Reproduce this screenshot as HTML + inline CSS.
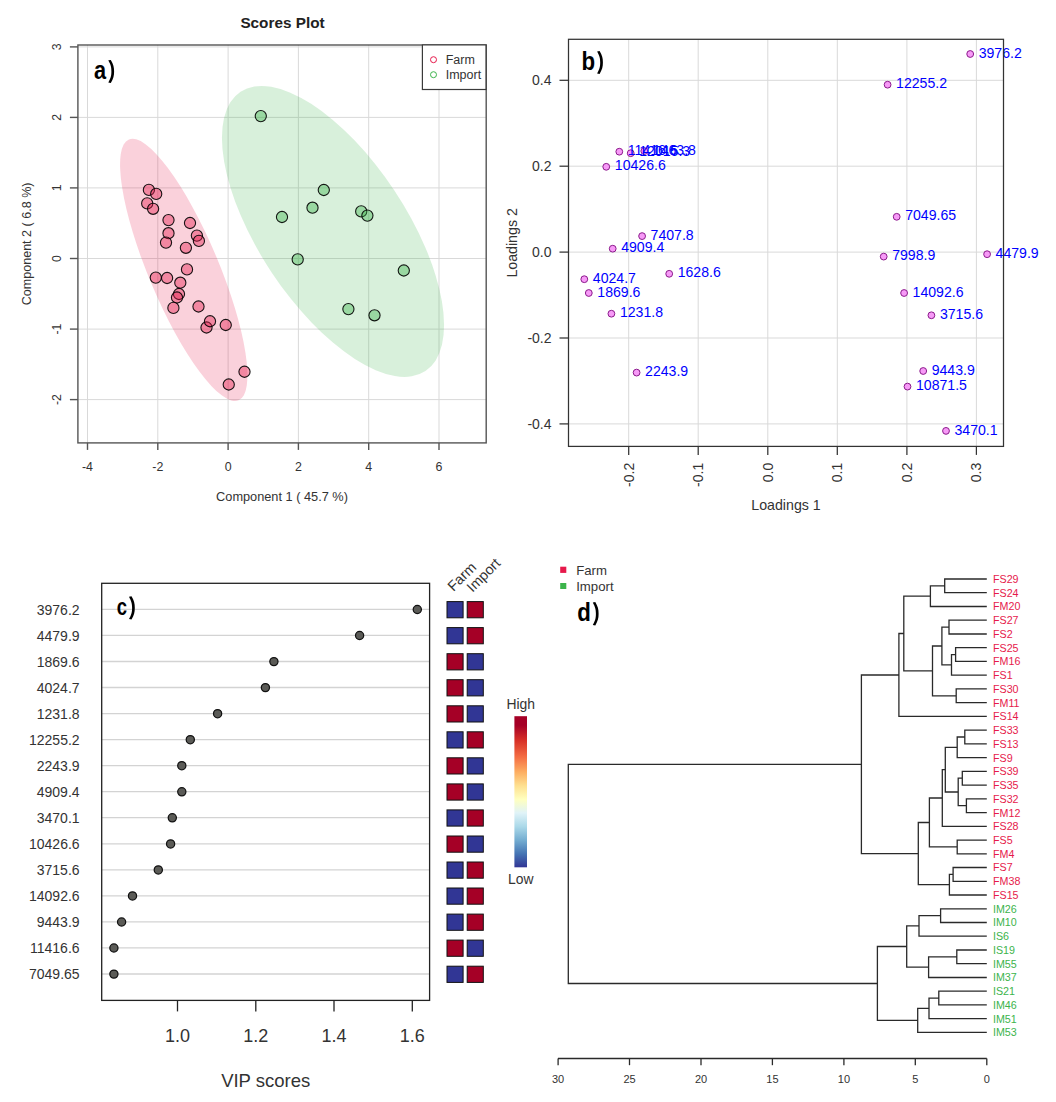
<!DOCTYPE html>
<html><head><meta charset="utf-8"><style>
html,body{margin:0;padding:0;background:#fff;}
svg{display:block;}
text{font-family:"Liberation Sans", sans-serif;}
</style></head><body>
<svg width="1056" height="1102" viewBox="0 0 1056 1102">
<rect width="1056" height="1102" fill="#fff"/>
<g id="pa">
<line x1="87.5" y1="45.0" x2="87.5" y2="442.9" stroke="#D9D9D9" stroke-width="1"/>
<line x1="157.8" y1="45.0" x2="157.8" y2="442.9" stroke="#D9D9D9" stroke-width="1"/>
<line x1="228.1" y1="45.0" x2="228.1" y2="442.9" stroke="#D9D9D9" stroke-width="1"/>
<line x1="298.4" y1="45.0" x2="298.4" y2="442.9" stroke="#D9D9D9" stroke-width="1"/>
<line x1="368.7" y1="45.0" x2="368.7" y2="442.9" stroke="#D9D9D9" stroke-width="1"/>
<line x1="439.0" y1="45.0" x2="439.0" y2="442.9" stroke="#D9D9D9" stroke-width="1"/>
<line x1="77.9" y1="399.6" x2="486.2" y2="399.6" stroke="#D9D9D9" stroke-width="1"/>
<line x1="77.9" y1="329.1" x2="486.2" y2="329.1" stroke="#D9D9D9" stroke-width="1"/>
<line x1="77.9" y1="258.5" x2="486.2" y2="258.5" stroke="#D9D9D9" stroke-width="1"/>
<line x1="77.9" y1="187.9" x2="486.2" y2="187.9" stroke="#D9D9D9" stroke-width="1"/>
<line x1="77.9" y1="117.4" x2="486.2" y2="117.4" stroke="#D9D9D9" stroke-width="1"/>
<line x1="77.9" y1="46.9" x2="486.2" y2="46.9" stroke="#D9D9D9" stroke-width="1"/>
<ellipse cx="183.75" cy="269.9" rx="141.5" ry="35.13" transform="rotate(67.2 183.75 269.9)" fill="#e6194B" fill-opacity="0.2"/>
<ellipse cx="333" cy="231.4" rx="167.5" ry="73.8" transform="rotate(56.5 333 231.4)" fill="#3cb44b" fill-opacity="0.2"/>
<circle cx="148.9" cy="189.9" r="5.6" fill="#e6194B" fill-opacity="0.4" stroke="#000" stroke-opacity="0.9" stroke-width="1.1"/>
<circle cx="156.2" cy="193.9" r="5.6" fill="#e6194B" fill-opacity="0.4" stroke="#000" stroke-opacity="0.9" stroke-width="1.1"/>
<circle cx="147.2" cy="203.4" r="5.6" fill="#e6194B" fill-opacity="0.4" stroke="#000" stroke-opacity="0.9" stroke-width="1.1"/>
<circle cx="153.1" cy="208.8" r="5.6" fill="#e6194B" fill-opacity="0.4" stroke="#000" stroke-opacity="0.9" stroke-width="1.1"/>
<circle cx="168.5" cy="220.1" r="5.6" fill="#e6194B" fill-opacity="0.4" stroke="#000" stroke-opacity="0.9" stroke-width="1.1"/>
<circle cx="190" cy="223" r="5.6" fill="#e6194B" fill-opacity="0.4" stroke="#000" stroke-opacity="0.9" stroke-width="1.1"/>
<circle cx="168.5" cy="233.2" r="5.6" fill="#e6194B" fill-opacity="0.4" stroke="#000" stroke-opacity="0.9" stroke-width="1.1"/>
<circle cx="196.9" cy="235.6" r="5.6" fill="#e6194B" fill-opacity="0.4" stroke="#000" stroke-opacity="0.9" stroke-width="1.1"/>
<circle cx="198.9" cy="240.9" r="5.6" fill="#e6194B" fill-opacity="0.4" stroke="#000" stroke-opacity="0.9" stroke-width="1.1"/>
<circle cx="166" cy="242.6" r="5.6" fill="#e6194B" fill-opacity="0.4" stroke="#000" stroke-opacity="0.9" stroke-width="1.1"/>
<circle cx="185.9" cy="247.8" r="5.6" fill="#e6194B" fill-opacity="0.4" stroke="#000" stroke-opacity="0.9" stroke-width="1.1"/>
<circle cx="187" cy="269.4" r="5.6" fill="#e6194B" fill-opacity="0.4" stroke="#000" stroke-opacity="0.9" stroke-width="1.1"/>
<circle cx="155.8" cy="277.6" r="5.6" fill="#e6194B" fill-opacity="0.4" stroke="#000" stroke-opacity="0.9" stroke-width="1.1"/>
<circle cx="167.1" cy="278" r="5.6" fill="#e6194B" fill-opacity="0.4" stroke="#000" stroke-opacity="0.9" stroke-width="1.1"/>
<circle cx="180.3" cy="282.7" r="5.6" fill="#e6194B" fill-opacity="0.4" stroke="#000" stroke-opacity="0.9" stroke-width="1.1"/>
<circle cx="179" cy="294" r="5.6" fill="#e6194B" fill-opacity="0.4" stroke="#000" stroke-opacity="0.9" stroke-width="1.1"/>
<circle cx="177" cy="297.5" r="5.6" fill="#e6194B" fill-opacity="0.4" stroke="#000" stroke-opacity="0.9" stroke-width="1.1"/>
<circle cx="173.4" cy="307.9" r="5.6" fill="#e6194B" fill-opacity="0.4" stroke="#000" stroke-opacity="0.9" stroke-width="1.1"/>
<circle cx="198.5" cy="306.5" r="5.6" fill="#e6194B" fill-opacity="0.4" stroke="#000" stroke-opacity="0.9" stroke-width="1.1"/>
<circle cx="206.5" cy="327.5" r="5.6" fill="#e6194B" fill-opacity="0.4" stroke="#000" stroke-opacity="0.9" stroke-width="1.1"/>
<circle cx="210" cy="321.25" r="5.6" fill="#e6194B" fill-opacity="0.4" stroke="#000" stroke-opacity="0.9" stroke-width="1.1"/>
<circle cx="225.75" cy="325" r="5.6" fill="#e6194B" fill-opacity="0.4" stroke="#000" stroke-opacity="0.9" stroke-width="1.1"/>
<circle cx="244.5" cy="371.75" r="5.6" fill="#e6194B" fill-opacity="0.4" stroke="#000" stroke-opacity="0.9" stroke-width="1.1"/>
<circle cx="228.75" cy="384.5" r="5.6" fill="#e6194B" fill-opacity="0.4" stroke="#000" stroke-opacity="0.9" stroke-width="1.1"/>
<circle cx="260.8" cy="116.1" r="5.6" fill="#3cb44b" fill-opacity="0.4" stroke="#000" stroke-opacity="0.9" stroke-width="1.1"/>
<circle cx="323.8" cy="190" r="5.6" fill="#3cb44b" fill-opacity="0.4" stroke="#000" stroke-opacity="0.9" stroke-width="1.1"/>
<circle cx="312.5" cy="207.7" r="5.6" fill="#3cb44b" fill-opacity="0.4" stroke="#000" stroke-opacity="0.9" stroke-width="1.1"/>
<circle cx="282" cy="217" r="5.6" fill="#3cb44b" fill-opacity="0.4" stroke="#000" stroke-opacity="0.9" stroke-width="1.1"/>
<circle cx="361.2" cy="211.4" r="5.6" fill="#3cb44b" fill-opacity="0.4" stroke="#000" stroke-opacity="0.9" stroke-width="1.1"/>
<circle cx="367.4" cy="215.6" r="5.6" fill="#3cb44b" fill-opacity="0.4" stroke="#000" stroke-opacity="0.9" stroke-width="1.1"/>
<circle cx="297.7" cy="259.4" r="5.6" fill="#3cb44b" fill-opacity="0.4" stroke="#000" stroke-opacity="0.9" stroke-width="1.1"/>
<circle cx="403.8" cy="270.5" r="5.6" fill="#3cb44b" fill-opacity="0.4" stroke="#000" stroke-opacity="0.9" stroke-width="1.1"/>
<circle cx="348.4" cy="309.1" r="5.6" fill="#3cb44b" fill-opacity="0.4" stroke="#000" stroke-opacity="0.9" stroke-width="1.1"/>
<circle cx="374.5" cy="315.3" r="5.6" fill="#3cb44b" fill-opacity="0.4" stroke="#000" stroke-opacity="0.9" stroke-width="1.1"/>
<rect x="77.9" y="45.0" width="408.3" height="397.9" fill="none" stroke="#555" stroke-width="1.4"/>
<line x1="87.5" y1="442.9" x2="87.5" y2="449.9" stroke="#555" stroke-width="1.4"/>
<text x="87.5" y="471.0" font-size="12.4" fill="#333333" text-anchor="middle">-4</text>
<line x1="157.8" y1="442.9" x2="157.8" y2="449.9" stroke="#555" stroke-width="1.4"/>
<text x="157.8" y="471.0" font-size="12.4" fill="#333333" text-anchor="middle">-2</text>
<line x1="228.1" y1="442.9" x2="228.1" y2="449.9" stroke="#555" stroke-width="1.4"/>
<text x="228.1" y="471.0" font-size="12.4" fill="#333333" text-anchor="middle">0</text>
<line x1="298.4" y1="442.9" x2="298.4" y2="449.9" stroke="#555" stroke-width="1.4"/>
<text x="298.4" y="471.0" font-size="12.4" fill="#333333" text-anchor="middle">2</text>
<line x1="368.7" y1="442.9" x2="368.7" y2="449.9" stroke="#555" stroke-width="1.4"/>
<text x="368.7" y="471.0" font-size="12.4" fill="#333333" text-anchor="middle">4</text>
<line x1="439.0" y1="442.9" x2="439.0" y2="449.9" stroke="#555" stroke-width="1.4"/>
<text x="439.0" y="471.0" font-size="12.4" fill="#333333" text-anchor="middle">6</text>
<line x1="69.9" y1="399.6" x2="77.9" y2="399.6" stroke="#555" stroke-width="1.4"/>
<text transform="translate(60.6 399.6) rotate(-90)" x="0" y="0" font-size="12.3" fill="#333333" text-anchor="middle">-2</text>
<line x1="69.9" y1="329.1" x2="77.9" y2="329.1" stroke="#555" stroke-width="1.4"/>
<text transform="translate(60.6 329.1) rotate(-90)" x="0" y="0" font-size="12.3" fill="#333333" text-anchor="middle">-1</text>
<line x1="69.9" y1="258.5" x2="77.9" y2="258.5" stroke="#555" stroke-width="1.4"/>
<text transform="translate(60.6 258.5) rotate(-90)" x="0" y="0" font-size="12.3" fill="#333333" text-anchor="middle">0</text>
<line x1="69.9" y1="187.9" x2="77.9" y2="187.9" stroke="#555" stroke-width="1.4"/>
<text transform="translate(60.6 187.9) rotate(-90)" x="0" y="0" font-size="12.3" fill="#333333" text-anchor="middle">1</text>
<line x1="69.9" y1="117.4" x2="77.9" y2="117.4" stroke="#555" stroke-width="1.4"/>
<text transform="translate(60.6 117.4) rotate(-90)" x="0" y="0" font-size="12.3" fill="#333333" text-anchor="middle">2</text>
<line x1="69.9" y1="46.9" x2="77.9" y2="46.9" stroke="#555" stroke-width="1.4"/>
<text transform="translate(60.6 46.9) rotate(-90)" x="0" y="0" font-size="12.3" fill="#333333" text-anchor="middle">3</text>
<rect x="422.4" y="44.9" width="63.6" height="44.6" fill="#fff" stroke="#3a3a3a" stroke-width="1.2"/>
<circle cx="433.5" cy="59.7" r="3" fill="none" stroke="#e6194B" stroke-width="1"/>
<circle cx="433.5" cy="74.7" r="3" fill="none" stroke="#3cb44b" stroke-width="1"/>
<text x="445.7" y="64.2" font-size="12.5" fill="#333333">Farm</text>
<text x="445.7" y="79.2" font-size="12.5" fill="#333333">Import</text>
<text x="282.5" y="28.2" font-size="15.3" font-weight="bold" fill="#222" text-anchor="middle">Scores Plot</text>
<text x="282" y="500.5" font-size="12.75" fill="#333333" text-anchor="middle">Component 1 ( 45.7 %)</text>
<text transform="translate(31.3 243.9) rotate(-90)" font-size="12.55" fill="#333333" text-anchor="middle">Component 2 ( 6.8 %)</text>
<text transform="translate(94.0 78.8) scale(0.87 1)" font-size="25" font-weight="bold" fill="#000">a</text>
<path d="M108.30 60.30L110.80 59.90C113.40 64.52 114.10 66.83 114.10 71.45C114.10 76.07 113.40 78.38 110.80 83.00L108.30 82.60C110.70 77.92 111.40 76.07 111.40 71.45C111.40 66.83 110.70 64.98 108.30 60.30Z" fill="#000"/>
</g>
<g id="pb">
<line x1="628.7" y1="39.3" x2="628.7" y2="446.4" stroke="#D9D9D9" stroke-width="1"/>
<line x1="698.2" y1="39.3" x2="698.2" y2="446.4" stroke="#D9D9D9" stroke-width="1"/>
<line x1="767.8" y1="39.3" x2="767.8" y2="446.4" stroke="#D9D9D9" stroke-width="1"/>
<line x1="837.3" y1="39.3" x2="837.3" y2="446.4" stroke="#D9D9D9" stroke-width="1"/>
<line x1="906.9" y1="39.3" x2="906.9" y2="446.4" stroke="#D9D9D9" stroke-width="1"/>
<line x1="976.4" y1="39.3" x2="976.4" y2="446.4" stroke="#D9D9D9" stroke-width="1"/>
<line x1="568.5" y1="423.9" x2="1003.5" y2="423.9" stroke="#D9D9D9" stroke-width="1"/>
<line x1="568.5" y1="338.0" x2="1003.5" y2="338.0" stroke="#D9D9D9" stroke-width="1"/>
<line x1="568.5" y1="252.1" x2="1003.5" y2="252.1" stroke="#D9D9D9" stroke-width="1"/>
<line x1="568.5" y1="166.2" x2="1003.5" y2="166.2" stroke="#D9D9D9" stroke-width="1"/>
<line x1="568.5" y1="80.3" x2="1003.5" y2="80.3" stroke="#D9D9D9" stroke-width="1"/>
<circle cx="619.3" cy="151.7" r="3.4" fill="#F79AF7" stroke="#8B1A8B" stroke-width="1"/>
<circle cx="630.7" cy="153.2" r="3.4" fill="#F79AF7" stroke="#8B1A8B" stroke-width="1"/>
<circle cx="644.3" cy="151.1" r="3.4" fill="#F79AF7" stroke="#8B1A8B" stroke-width="1"/>
<circle cx="606.25" cy="166.8" r="3.4" fill="#F79AF7" stroke="#8B1A8B" stroke-width="1"/>
<circle cx="642.1" cy="236.1" r="3.4" fill="#F79AF7" stroke="#8B1A8B" stroke-width="1"/>
<circle cx="612.7" cy="248.7" r="3.4" fill="#F79AF7" stroke="#8B1A8B" stroke-width="1"/>
<circle cx="669.2" cy="273.8" r="3.4" fill="#F79AF7" stroke="#8B1A8B" stroke-width="1"/>
<circle cx="584.3" cy="279.2" r="3.4" fill="#F79AF7" stroke="#8B1A8B" stroke-width="1"/>
<circle cx="588.8" cy="293.0" r="3.4" fill="#F79AF7" stroke="#8B1A8B" stroke-width="1"/>
<circle cx="611.4" cy="313.7" r="3.4" fill="#F79AF7" stroke="#8B1A8B" stroke-width="1"/>
<circle cx="636.6" cy="372.6" r="3.4" fill="#F79AF7" stroke="#8B1A8B" stroke-width="1"/>
<circle cx="970.2" cy="54.0" r="3.4" fill="#F79AF7" stroke="#8B1A8B" stroke-width="1"/>
<circle cx="887.6" cy="84.7" r="3.4" fill="#F79AF7" stroke="#8B1A8B" stroke-width="1"/>
<circle cx="896.7" cy="216.8" r="3.4" fill="#F79AF7" stroke="#8B1A8B" stroke-width="1"/>
<circle cx="883.7" cy="256.6" r="3.4" fill="#F79AF7" stroke="#8B1A8B" stroke-width="1"/>
<circle cx="987.1" cy="254.2" r="3.4" fill="#F79AF7" stroke="#8B1A8B" stroke-width="1"/>
<circle cx="904.1" cy="293.0" r="3.4" fill="#F79AF7" stroke="#8B1A8B" stroke-width="1"/>
<circle cx="931.4" cy="315.3" r="3.4" fill="#F79AF7" stroke="#8B1A8B" stroke-width="1"/>
<circle cx="923.2" cy="371.0" r="3.4" fill="#F79AF7" stroke="#8B1A8B" stroke-width="1"/>
<circle cx="907.5" cy="386.6" r="3.4" fill="#F79AF7" stroke="#8B1A8B" stroke-width="1"/>
<circle cx="946.0" cy="430.9" r="3.4" fill="#F79AF7" stroke="#8B1A8B" stroke-width="1"/>
<text x="627.8" y="155.3" font-size="14.1" fill="#0000FF">11416.6</text>
<text x="639.2" y="155.8" font-size="14.1" fill="#0000FF">12015.3</text>
<text x="652.8" y="154.7" font-size="14.1" fill="#0000FF">1463.8</text>
<text x="614.8" y="170.4" font-size="14.1" fill="#0000FF">10426.6</text>
<text x="650.6" y="239.7" font-size="14.1" fill="#0000FF">7407.8</text>
<text x="621.2" y="252.3" font-size="14.1" fill="#0000FF">4909.4</text>
<text x="677.7" y="277.4" font-size="14.1" fill="#0000FF">1628.6</text>
<text x="592.8" y="282.8" font-size="14.1" fill="#0000FF">4024.7</text>
<text x="597.3" y="296.6" font-size="14.1" fill="#0000FF">1869.6</text>
<text x="619.9" y="317.3" font-size="14.1" fill="#0000FF">1231.8</text>
<text x="645.1" y="376.2" font-size="14.1" fill="#0000FF">2243.9</text>
<text x="978.7" y="57.6" font-size="14.1" fill="#0000FF">3976.2</text>
<text x="896.1" y="88.3" font-size="14.1" fill="#0000FF">12255.2</text>
<text x="905.2" y="220.4" font-size="14.1" fill="#0000FF">7049.65</text>
<text x="892.2" y="260.2" font-size="14.1" fill="#0000FF">7998.9</text>
<text x="995.6" y="257.8" font-size="14.1" fill="#0000FF">4479.9</text>
<text x="912.6" y="296.6" font-size="14.1" fill="#0000FF">14092.6</text>
<text x="939.9" y="318.9" font-size="14.1" fill="#0000FF">3715.6</text>
<text x="931.7" y="374.6" font-size="14.1" fill="#0000FF">9443.9</text>
<text x="916.0" y="390.2" font-size="14.1" fill="#0000FF">10871.5</text>
<text x="954.5" y="434.5" font-size="14.1" fill="#0000FF">3470.1</text>
<rect x="568.5" y="39.3" width="435.0" height="407.1" fill="none" stroke="#333" stroke-width="1.25"/>
<line x1="628.7" y1="446.4" x2="628.7" y2="454.9" stroke="#333" stroke-width="1.25"/>
<text transform="translate(633.7 462.8) rotate(-90)" font-size="14" fill="#333333" text-anchor="end">-0.2</text>
<line x1="698.2" y1="446.4" x2="698.2" y2="454.9" stroke="#333" stroke-width="1.25"/>
<text transform="translate(703.2 462.8) rotate(-90)" font-size="14" fill="#333333" text-anchor="end">-0.1</text>
<line x1="767.8" y1="446.4" x2="767.8" y2="454.9" stroke="#333" stroke-width="1.25"/>
<text transform="translate(772.8 462.8) rotate(-90)" font-size="14" fill="#333333" text-anchor="end">0.0</text>
<line x1="837.3" y1="446.4" x2="837.3" y2="454.9" stroke="#333" stroke-width="1.25"/>
<text transform="translate(842.3 462.8) rotate(-90)" font-size="14" fill="#333333" text-anchor="end">0.1</text>
<line x1="906.9" y1="446.4" x2="906.9" y2="454.9" stroke="#333" stroke-width="1.25"/>
<text transform="translate(911.9 462.8) rotate(-90)" font-size="14" fill="#333333" text-anchor="end">0.2</text>
<line x1="976.4" y1="446.4" x2="976.4" y2="454.9" stroke="#333" stroke-width="1.25"/>
<text transform="translate(981.4 462.8) rotate(-90)" font-size="14" fill="#333333" text-anchor="end">0.3</text>
<line x1="559.5" y1="423.9" x2="568.5" y2="423.9" stroke="#333" stroke-width="1.25"/>
<text x="551.5" y="428.9" font-size="14" fill="#333333" text-anchor="end">-0.4</text>
<line x1="559.5" y1="338.0" x2="568.5" y2="338.0" stroke="#333" stroke-width="1.25"/>
<text x="551.5" y="343.0" font-size="14" fill="#333333" text-anchor="end">-0.2</text>
<line x1="559.5" y1="252.1" x2="568.5" y2="252.1" stroke="#333" stroke-width="1.25"/>
<text x="551.5" y="257.1" font-size="14" fill="#333333" text-anchor="end">0.0</text>
<line x1="559.5" y1="166.2" x2="568.5" y2="166.2" stroke="#333" stroke-width="1.25"/>
<text x="551.5" y="171.2" font-size="14" fill="#333333" text-anchor="end">0.2</text>
<line x1="559.5" y1="80.3" x2="568.5" y2="80.3" stroke="#333" stroke-width="1.25"/>
<text x="551.5" y="85.3" font-size="14" fill="#333333" text-anchor="end">0.4</text>
<text x="786" y="510" font-size="14.2" fill="#333333" text-anchor="middle">Loadings 1</text>
<text transform="translate(517.0 242.9) rotate(-90)" font-size="14.2" fill="#333333" text-anchor="middle">Loadings 2</text>
<text transform="translate(581.5 69.6) scale(0.89 1)" font-size="25" font-weight="bold" fill="#000">b</text>
<path d="M597.10 51.40L599.60 51.00C602.20 55.58 602.90 57.87 602.90 62.45C602.90 67.03 602.20 69.32 599.60 73.90L597.10 73.50C599.50 68.86 600.20 67.03 600.20 62.45C600.20 57.87 599.50 56.04 597.10 51.40Z" fill="#000"/>
</g>
<g id="pc">
<line x1="101.7" y1="609.4" x2="429.6" y2="609.4" stroke="#D3D3D3" stroke-width="1.3"/>
<text x="79.6" y="614.7" font-size="14" fill="#333333" text-anchor="end">3976.2</text>
<line x1="101.7" y1="635.4" x2="429.6" y2="635.4" stroke="#D3D3D3" stroke-width="1.3"/>
<text x="79.6" y="640.7" font-size="14" fill="#333333" text-anchor="end">4479.9</text>
<line x1="101.7" y1="661.5" x2="429.6" y2="661.5" stroke="#D3D3D3" stroke-width="1.3"/>
<text x="79.6" y="666.8" font-size="14" fill="#333333" text-anchor="end">1869.6</text>
<line x1="101.7" y1="687.5" x2="429.6" y2="687.5" stroke="#D3D3D3" stroke-width="1.3"/>
<text x="79.6" y="692.8" font-size="14" fill="#333333" text-anchor="end">4024.7</text>
<line x1="101.7" y1="713.6" x2="429.6" y2="713.6" stroke="#D3D3D3" stroke-width="1.3"/>
<text x="79.6" y="718.9" font-size="14" fill="#333333" text-anchor="end">1231.8</text>
<line x1="101.7" y1="739.6" x2="429.6" y2="739.6" stroke="#D3D3D3" stroke-width="1.3"/>
<text x="79.6" y="744.9" font-size="14" fill="#333333" text-anchor="end">12255.2</text>
<line x1="101.7" y1="765.6" x2="429.6" y2="765.6" stroke="#D3D3D3" stroke-width="1.3"/>
<text x="79.6" y="770.9" font-size="14" fill="#333333" text-anchor="end">2243.9</text>
<line x1="101.7" y1="791.7" x2="429.6" y2="791.7" stroke="#D3D3D3" stroke-width="1.3"/>
<text x="79.6" y="797.0" font-size="14" fill="#333333" text-anchor="end">4909.4</text>
<line x1="101.7" y1="817.7" x2="429.6" y2="817.7" stroke="#D3D3D3" stroke-width="1.3"/>
<text x="79.6" y="823.0" font-size="14" fill="#333333" text-anchor="end">3470.1</text>
<line x1="101.7" y1="843.8" x2="429.6" y2="843.8" stroke="#D3D3D3" stroke-width="1.3"/>
<text x="79.6" y="849.1" font-size="14" fill="#333333" text-anchor="end">10426.6</text>
<line x1="101.7" y1="869.8" x2="429.6" y2="869.8" stroke="#D3D3D3" stroke-width="1.3"/>
<text x="79.6" y="875.1" font-size="14" fill="#333333" text-anchor="end">3715.6</text>
<line x1="101.7" y1="895.8" x2="429.6" y2="895.8" stroke="#D3D3D3" stroke-width="1.3"/>
<text x="79.6" y="901.1" font-size="14" fill="#333333" text-anchor="end">14092.6</text>
<line x1="101.7" y1="921.9" x2="429.6" y2="921.9" stroke="#D3D3D3" stroke-width="1.3"/>
<text x="79.6" y="927.2" font-size="14" fill="#333333" text-anchor="end">9443.9</text>
<line x1="101.7" y1="947.9" x2="429.6" y2="947.9" stroke="#D3D3D3" stroke-width="1.3"/>
<text x="79.6" y="953.2" font-size="14" fill="#333333" text-anchor="end">11416.6</text>
<line x1="101.7" y1="974.0" x2="429.6" y2="974.0" stroke="#D3D3D3" stroke-width="1.3"/>
<text x="79.6" y="979.3" font-size="14" fill="#333333" text-anchor="end">7049.65</text>
<circle cx="417.3" cy="609.5" r="4.1" fill="#5B5B57" stroke="#111" stroke-width="1.25"/>
<rect x="447.0" y="601.6" width="16.1" height="16.2" fill="#313695" stroke="#111" stroke-width="1"/>
<rect x="467.2" y="601.6" width="16.1" height="16.2" fill="#A50026" stroke="#111" stroke-width="1"/>
<circle cx="359.6" cy="635.5" r="4.1" fill="#5B5B57" stroke="#111" stroke-width="1.25"/>
<rect x="447.0" y="627.6" width="16.1" height="16.2" fill="#313695" stroke="#111" stroke-width="1"/>
<rect x="467.2" y="627.6" width="16.1" height="16.2" fill="#A50026" stroke="#111" stroke-width="1"/>
<circle cx="273.9" cy="661.6" r="4.1" fill="#5B5B57" stroke="#111" stroke-width="1.25"/>
<rect x="447.0" y="653.7" width="16.1" height="16.2" fill="#A50026" stroke="#111" stroke-width="1"/>
<rect x="467.2" y="653.7" width="16.1" height="16.2" fill="#313695" stroke="#111" stroke-width="1"/>
<circle cx="265.4" cy="687.6" r="4.1" fill="#5B5B57" stroke="#111" stroke-width="1.25"/>
<rect x="447.0" y="679.7" width="16.1" height="16.2" fill="#A50026" stroke="#111" stroke-width="1"/>
<rect x="467.2" y="679.7" width="16.1" height="16.2" fill="#313695" stroke="#111" stroke-width="1"/>
<circle cx="217.6" cy="713.7" r="4.1" fill="#5B5B57" stroke="#111" stroke-width="1.25"/>
<rect x="447.0" y="705.8" width="16.1" height="16.2" fill="#A50026" stroke="#111" stroke-width="1"/>
<rect x="467.2" y="705.8" width="16.1" height="16.2" fill="#313695" stroke="#111" stroke-width="1"/>
<circle cx="190.3" cy="739.7" r="4.1" fill="#5B5B57" stroke="#111" stroke-width="1.25"/>
<rect x="447.0" y="731.8" width="16.1" height="16.2" fill="#313695" stroke="#111" stroke-width="1"/>
<rect x="467.2" y="731.8" width="16.1" height="16.2" fill="#A50026" stroke="#111" stroke-width="1"/>
<circle cx="181.8" cy="765.7" r="4.1" fill="#5B5B57" stroke="#111" stroke-width="1.25"/>
<rect x="447.0" y="757.8" width="16.1" height="16.2" fill="#A50026" stroke="#111" stroke-width="1"/>
<rect x="467.2" y="757.8" width="16.1" height="16.2" fill="#313695" stroke="#111" stroke-width="1"/>
<circle cx="181.8" cy="791.8" r="4.1" fill="#5B5B57" stroke="#111" stroke-width="1.25"/>
<rect x="447.0" y="783.9" width="16.1" height="16.2" fill="#A50026" stroke="#111" stroke-width="1"/>
<rect x="467.2" y="783.9" width="16.1" height="16.2" fill="#313695" stroke="#111" stroke-width="1"/>
<circle cx="172.3" cy="817.8" r="4.1" fill="#5B5B57" stroke="#111" stroke-width="1.25"/>
<rect x="447.0" y="809.9" width="16.1" height="16.2" fill="#313695" stroke="#111" stroke-width="1"/>
<rect x="467.2" y="809.9" width="16.1" height="16.2" fill="#A50026" stroke="#111" stroke-width="1"/>
<circle cx="170.6" cy="843.9" r="4.1" fill="#5B5B57" stroke="#111" stroke-width="1.25"/>
<rect x="447.0" y="836.0" width="16.1" height="16.2" fill="#A50026" stroke="#111" stroke-width="1"/>
<rect x="467.2" y="836.0" width="16.1" height="16.2" fill="#313695" stroke="#111" stroke-width="1"/>
<circle cx="158.3" cy="869.9" r="4.1" fill="#5B5B57" stroke="#111" stroke-width="1.25"/>
<rect x="447.0" y="862.0" width="16.1" height="16.2" fill="#313695" stroke="#111" stroke-width="1"/>
<rect x="467.2" y="862.0" width="16.1" height="16.2" fill="#A50026" stroke="#111" stroke-width="1"/>
<circle cx="132.5" cy="895.9" r="4.1" fill="#5B5B57" stroke="#111" stroke-width="1.25"/>
<rect x="447.0" y="888.0" width="16.1" height="16.2" fill="#313695" stroke="#111" stroke-width="1"/>
<rect x="467.2" y="888.0" width="16.1" height="16.2" fill="#A50026" stroke="#111" stroke-width="1"/>
<circle cx="121.6" cy="922.0" r="4.1" fill="#5B5B57" stroke="#111" stroke-width="1.25"/>
<rect x="447.0" y="914.1" width="16.1" height="16.2" fill="#313695" stroke="#111" stroke-width="1"/>
<rect x="467.2" y="914.1" width="16.1" height="16.2" fill="#A50026" stroke="#111" stroke-width="1"/>
<circle cx="113.9" cy="948.0" r="4.1" fill="#5B5B57" stroke="#111" stroke-width="1.25"/>
<rect x="447.0" y="940.1" width="16.1" height="16.2" fill="#A50026" stroke="#111" stroke-width="1"/>
<rect x="467.2" y="940.1" width="16.1" height="16.2" fill="#313695" stroke="#111" stroke-width="1"/>
<circle cx="113.9" cy="974.1" r="4.1" fill="#5B5B57" stroke="#111" stroke-width="1.25"/>
<rect x="447.0" y="966.2" width="16.1" height="16.2" fill="#313695" stroke="#111" stroke-width="1"/>
<rect x="467.2" y="966.2" width="16.1" height="16.2" fill="#A50026" stroke="#111" stroke-width="1"/>
<rect x="101.7" y="583.3" width="327.90000000000003" height="417.1" fill="none" stroke="#222" stroke-width="1.3"/>
<line x1="177.5" y1="1000.4" x2="177.5" y2="1011.4" stroke="#222" stroke-width="1.3"/>
<text x="177.5" y="1042.2" font-size="18" fill="#333333" text-anchor="middle">1.0</text>
<line x1="255.8" y1="1000.4" x2="255.8" y2="1011.4" stroke="#222" stroke-width="1.3"/>
<text x="255.8" y="1042.2" font-size="18" fill="#333333" text-anchor="middle">1.2</text>
<line x1="334.0" y1="1000.4" x2="334.0" y2="1011.4" stroke="#222" stroke-width="1.3"/>
<text x="334.0" y="1042.2" font-size="18" fill="#333333" text-anchor="middle">1.4</text>
<line x1="412.3" y1="1000.4" x2="412.3" y2="1011.4" stroke="#222" stroke-width="1.3"/>
<text x="412.3" y="1042.2" font-size="18" fill="#333333" text-anchor="middle">1.6</text>
<text x="265.7" y="1086.6" font-size="18.5" fill="#333333" text-anchor="middle">VIP scores</text>
<text transform="translate(453.4 591.9) rotate(-45)" font-size="14.4" fill="#333333">Farm</text>
<text transform="translate(472.6 592.9) rotate(-45)" font-size="14.3" fill="#333333">Import</text>
<defs><linearGradient id="rdylbu" x1="0" y1="0" x2="0" y2="1"><stop offset="0" stop-color="#A50026"/><stop offset="0.06" stop-color="#A50026"/><stop offset="0.16" stop-color="#D73027"/><stop offset="0.27" stop-color="#F46D43"/><stop offset="0.37" stop-color="#FDAE61"/><stop offset="0.46" stop-color="#FEE090"/><stop offset="0.55" stop-color="#FFFFBF"/><stop offset="0.64" stop-color="#E0F3F8"/><stop offset="0.73" stop-color="#ABD9E9"/><stop offset="0.82" stop-color="#74ADD1"/><stop offset="0.91" stop-color="#4575B4"/><stop offset="1" stop-color="#313695"/></linearGradient></defs>
<rect x="514.4" y="716.2" width="12.6" height="151.1" fill="url(#rdylbu)"/>
<text x="520.8" y="709.3" font-size="13.9" fill="#333333" text-anchor="middle">High</text>
<text x="520.8" y="884" font-size="13.9" fill="#333333" text-anchor="middle">Low</text>
<text transform="translate(116.8 615.3) scale(0.79 1)" font-size="23.4" font-weight="bold" fill="#000">c</text>
<path d="M129.00 596.65L131.50 596.25C134.10 600.90 134.80 603.23 134.80 607.88C134.80 612.52 134.10 614.85 131.50 619.50L129.00 619.10C131.40 614.38 132.10 612.52 132.10 607.88C132.10 603.23 131.40 601.37 129.00 596.65Z" fill="#000"/>
</g>
<g id="pd">
<rect x="560.2" y="566.7" width="6.1" height="6.2" fill="#e6194B"/>
<rect x="560.2" y="583.0" width="6.1" height="6.0" fill="#3cb44b"/>
<text x="576.2" y="574.8" font-size="13.2" fill="#333333">Farm</text>
<text x="576.2" y="591.0" font-size="13.2" fill="#333333">Import</text>
<text transform="translate(577.3 620.9) scale(0.89 1)" font-size="25" font-weight="bold" fill="#000">d</text>
<path d="M592.80 602.40L595.30 602.00C597.90 606.70 598.60 609.05 598.60 613.75C598.60 618.45 597.90 620.80 595.30 625.50L592.80 625.10C595.20 620.33 595.90 618.45 595.90 613.75C595.90 609.05 595.20 607.17 592.80 602.40Z" fill="#000"/>
<path d="M986.8 579.0H944.7V592.7H986.8M944.7 585.9H930.4V606.5H986.8M986.8 620.2H949.0V634.0H986.8M986.8 647.7H955.6V661.4H986.8M955.6 654.6H951.5V675.2H986.8M949.0 627.1H941.9V664.9H951.5M986.8 688.9H956.2V702.7H986.8M941.9 646.0H932.5V695.8H956.2M930.4 596.2H903.8V670.9H932.5M903.8 633.5H898.9V716.4H986.8M986.8 730.1H964.8V743.9H986.8M964.8 737.0H957.2V757.6H986.8M986.8 771.4H962.3V785.1H986.8M986.8 798.8H966.4V812.6H986.8M962.3 778.2H958.2V805.7H966.4M957.2 747.3H945.3V792.0H958.2M945.3 769.6H942.3V826.3H986.8M986.8 840.1H957.2V853.8H986.8M942.3 798.0H929.4V846.9H957.2M986.8 867.5H953.1V881.3H986.8M953.1 874.4H949.4V895.0H986.8M929.4 822.5H918.3V884.7H949.4M898.9 675.0H861.4V853.6H918.3M986.8 908.8H940.6V922.5H986.8M940.6 915.6H919.0V936.2H986.8M986.8 950.0H956.8V963.7H986.8M956.8 956.9H928.6V977.5H986.8M919.0 925.9H906.7V967.2H928.6M986.8 991.2H938.8V1004.9H986.8M938.8 998.1H929.0V1018.7H986.8M929.0 1008.4H917.7V1032.4H986.8M906.7 946.5H877.4V1020.4H917.7M861.4 764.3H568.3V983.5H877.4" fill="none" stroke="#2a2a2a" stroke-width="1.3"/>
<text x="993" y="582.9" font-size="10.7" fill="#e6194B">FS29</text>
<text x="993" y="596.6" font-size="10.7" fill="#e6194B">FS24</text>
<text x="993" y="610.4" font-size="10.7" fill="#e6194B">FM20</text>
<text x="993" y="624.1" font-size="10.7" fill="#e6194B">FS27</text>
<text x="993" y="637.9" font-size="10.7" fill="#e6194B">FS2</text>
<text x="993" y="651.6" font-size="10.7" fill="#e6194B">FS25</text>
<text x="993" y="665.3" font-size="10.7" fill="#e6194B">FM16</text>
<text x="993" y="679.1" font-size="10.7" fill="#e6194B">FS1</text>
<text x="993" y="692.8" font-size="10.7" fill="#e6194B">FS30</text>
<text x="993" y="706.6" font-size="10.7" fill="#e6194B">FM11</text>
<text x="993" y="720.3" font-size="10.7" fill="#e6194B">FS14</text>
<text x="993" y="734.0" font-size="10.7" fill="#e6194B">FS33</text>
<text x="993" y="747.8" font-size="10.7" fill="#e6194B">FS13</text>
<text x="993" y="761.5" font-size="10.7" fill="#e6194B">FS9</text>
<text x="993" y="775.3" font-size="10.7" fill="#e6194B">FS39</text>
<text x="993" y="789.0" font-size="10.7" fill="#e6194B">FS35</text>
<text x="993" y="802.7" font-size="10.7" fill="#e6194B">FS32</text>
<text x="993" y="816.5" font-size="10.7" fill="#e6194B">FM12</text>
<text x="993" y="830.2" font-size="10.7" fill="#e6194B">FS28</text>
<text x="993" y="844.0" font-size="10.7" fill="#e6194B">FS5</text>
<text x="993" y="857.7" font-size="10.7" fill="#e6194B">FM4</text>
<text x="993" y="871.4" font-size="10.7" fill="#e6194B">FS7</text>
<text x="993" y="885.2" font-size="10.7" fill="#e6194B">FM38</text>
<text x="993" y="898.9" font-size="10.7" fill="#e6194B">FS15</text>
<text x="993" y="912.7" font-size="10.7" fill="#3cb44b">IM26</text>
<text x="993" y="926.4" font-size="10.7" fill="#3cb44b">IM10</text>
<text x="993" y="940.1" font-size="10.7" fill="#3cb44b">IS6</text>
<text x="993" y="953.9" font-size="10.7" fill="#3cb44b">IS19</text>
<text x="993" y="967.6" font-size="10.7" fill="#3cb44b">IM55</text>
<text x="993" y="981.4" font-size="10.7" fill="#3cb44b">IM37</text>
<text x="993" y="995.1" font-size="10.7" fill="#3cb44b">IS21</text>
<text x="993" y="1008.8" font-size="10.7" fill="#3cb44b">IM46</text>
<text x="993" y="1022.6" font-size="10.7" fill="#3cb44b">IM51</text>
<text x="993" y="1036.3" font-size="10.7" fill="#3cb44b">IM53</text>
<path d="M558 1058.5H986.8" stroke="#2a2a2a" stroke-width="1.3"/>
<line x1="558.1" y1="1058.5" x2="558.1" y2="1065.2" stroke="#2a2a2a" stroke-width="1.3"/>
<text x="558.1" y="1083" font-size="11" fill="#333333" text-anchor="middle">30</text>
<line x1="629.5" y1="1058.5" x2="629.5" y2="1065.2" stroke="#2a2a2a" stroke-width="1.3"/>
<text x="629.5" y="1083" font-size="11" fill="#333333" text-anchor="middle">25</text>
<line x1="701.0" y1="1058.5" x2="701.0" y2="1065.2" stroke="#2a2a2a" stroke-width="1.3"/>
<text x="701.0" y="1083" font-size="11" fill="#333333" text-anchor="middle">20</text>
<line x1="772.4" y1="1058.5" x2="772.4" y2="1065.2" stroke="#2a2a2a" stroke-width="1.3"/>
<text x="772.4" y="1083" font-size="11" fill="#333333" text-anchor="middle">15</text>
<line x1="843.9" y1="1058.5" x2="843.9" y2="1065.2" stroke="#2a2a2a" stroke-width="1.3"/>
<text x="843.9" y="1083" font-size="11" fill="#333333" text-anchor="middle">10</text>
<line x1="915.3" y1="1058.5" x2="915.3" y2="1065.2" stroke="#2a2a2a" stroke-width="1.3"/>
<text x="915.3" y="1083" font-size="11" fill="#333333" text-anchor="middle">5</text>
<line x1="986.8" y1="1058.5" x2="986.8" y2="1065.2" stroke="#2a2a2a" stroke-width="1.3"/>
<text x="986.8" y="1083" font-size="11" fill="#333333" text-anchor="middle">0</text>
</g>
</svg></body></html>
